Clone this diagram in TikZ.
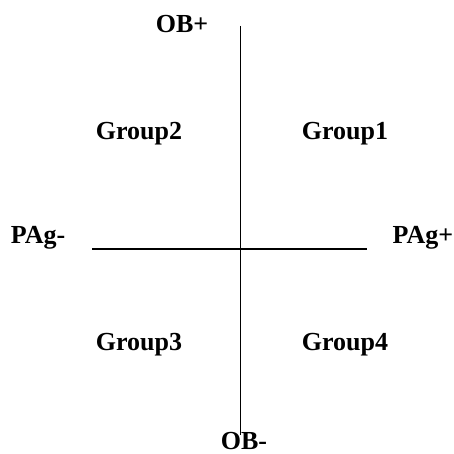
\documentclass[tikz,border=0pt]{standalone}
\usepackage{fontspec}
\setmainfont{Liberation Serif}
\begin{document}
\begin{tikzpicture}[x=1bp,y=-1bp,
  lbl/.style={font=\fontsize{26bp}{30bp}\selectfont\bfseries, inner sep=0pt, anchor=base},
  axis/.style={line width=1.2bp, black}]
\useasboundingbox (0,0) rectangle (454,454);
\coordinate (vtop) at (240.5,26);
\coordinate (vbot) at (240.5,435);
\coordinate (hl) at (92,249);
\coordinate (hr) at (367,249);
\draw[axis] (vtop) -- (vbot);
\draw[axis] (hl) -- (hr);
\node[lbl] (obp) at (182,33) {OB+};
\node[lbl] (obm) at (244,449) {OB-};
\node[lbl] (pam) at (38,243) {PAg-};
\node[lbl] (pap) at (423,243) {PAg+};
\node[lbl] (g2) at (139,140) {Group2};
\node[lbl] (g1) at (345,140) {Group1};
\node[lbl] (g3) at (139,350) {Group3};
\node[lbl] (g4) at (345,350) {Group4};
\end{tikzpicture}
\end{document}
